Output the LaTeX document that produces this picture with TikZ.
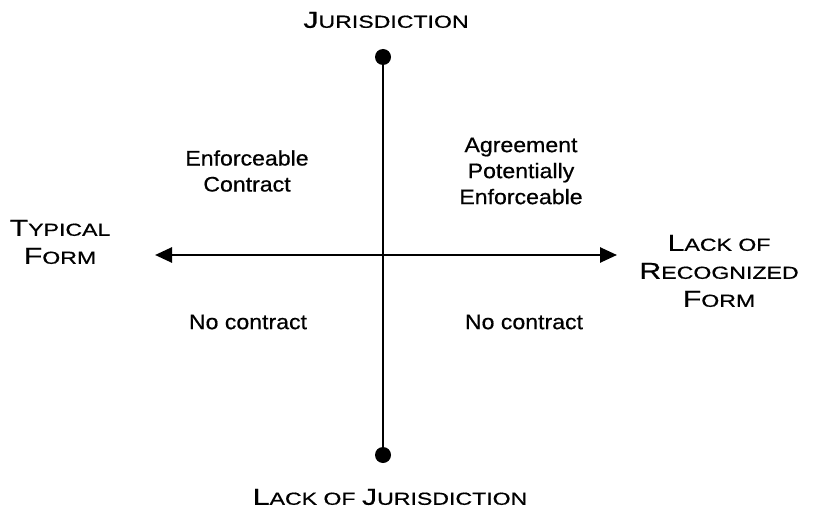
\documentclass[tikz,border=0pt]{standalone}
\usepackage{fontspec}
\setmainfont{Liberation Sans}
\newfontfamily\bodyfont[FakeStretch=1.1,FakeBold=0.6]{Liberation Sans}
\newfontfamily\capfont[FakeStretch=1.32,FakeBold=0.6]{Liberation Sans}
\usetikzlibrary{arrows.meta}
\newcommand{\fsc}[2]{{\capfont\fontsize{23}{28}\selectfont #1}{\capfont\fontsize{17.5}{28}\selectfont #2}}
\begin{document}
\begin{tikzpicture}[x=1pt,y=1pt,
  lbl/.style={align=center,font=\bodyfont\fontsize{21}{26}\selectfont,inner sep=0pt},
  axlbl/.style={align=center,inner sep=0pt},
  axis/.style={line width=2.6pt},
  dotend/.style={circle,fill=black,inner sep=0pt,minimum size=16pt}]
\useasboundingbox (0,0) rectangle (818,512);
\node[dotend] (top) at (383,455) {};
\node[dotend] (bot) at (383,57) {};
\draw[axis] (top) -- (bot);
\coordinate (L) at (155,257);
\coordinate (R) at (617,257);
\draw[axis,{Triangle[length=17pt,width=15pt]}-{Triangle[length=17pt,width=15pt]}] (L) -- (R);
\node[axlbl] (jur) at (386,492) {\fsc{J}{URISDICTION}};
\node[axlbl] (ljur) at (390,15) {\fsc{L}{ACK OF\ }\fsc{J}{URISDICTION}};
\node[axlbl,font=\fontsize{23}{28}\selectfont] (tf) at (60,270) {\fsc{T}{YPICAL}\\\fsc{F}{ORM}};
\node[axlbl,font=\fontsize{23}{28}\selectfont] (lrf) at (719,241) {\fsc{L}{ACK OF}\\\fsc{R}{ECOGNIZED}\\\fsc{F}{ORM}};
\node[lbl] (ec) at (247,341) {Enforceable\\Contract};
\node[lbl] (ape) at (521,341) {Agreement\\Potentially\\Enforceable};
\node[lbl] (nc1) at (248,190) {No contract};
\node[lbl] (nc2) at (524,190) {No contract};
\end{tikzpicture}
\end{document}
